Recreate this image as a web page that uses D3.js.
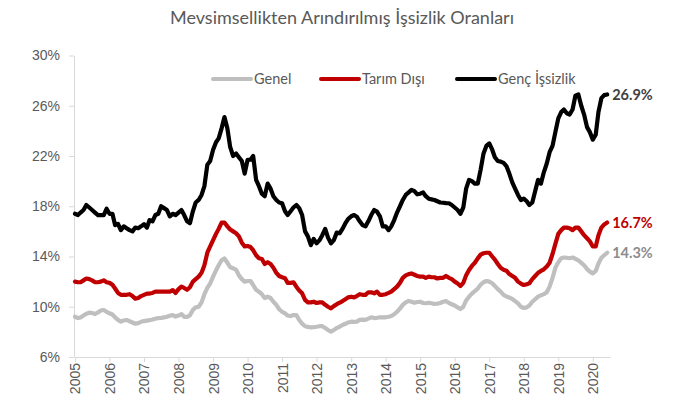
<!DOCTYPE html>
<html lang="tr">
<head>
    <meta charset="UTF-8">
    <title>İşsizlik Oranları</title>
    <script src="https://d3js.org/d3.v7.min.js"></script>
    <style>
        body {
            margin: 0;
            padding: 0;
            background: #fff;
            font-family: Lato, "Open Sans", sans-serif;
        }
        svg text {
            fill: #595959;
        }
        .axis path, .axis line {
            stroke: #d9d9d9;
        }
        .series {
            fill: none;
            stroke-width: 4.2px;
            stroke-linejoin: round;
            stroke-linecap: round;
        }
    </style>
</head>
<body>
    <svg id="chart" width="673" height="407"></svg>

    <script>
        // monthly, Jan 2005 .. Jun 2020 (seasonally adjusted, %)
        const startYear = 2005;
        const years = d3.range(2005, 2021);
        const yTicks = [6, 10, 14, 18, 22, 26, 30];

        const genel = [
            9.2, 9.1, 9.15, 9.3, 9.45, 9.53, 9.5, 9.42, 9.55, 9.7, 9.74, 9.6,
            9.48, 9.38, 9.15, 8.95, 8.82, 8.9, 8.95, 8.85, 8.75, 8.65, 8.7, 8.8,
            8.86, 8.9, 8.93, 8.98, 9.05, 9.1, 9.12, 9.15, 9.2, 9.28, 9.34, 9.22,
            9.3, 9.42, 9.2, 9.2, 9.32, 9.75, 9.95, 10.0, 10.35, 11.0, 11.5, 11.85,
            12.4, 12.9, 13.3, 13.7, 13.85, 13.5, 13.15, 13.06, 12.95, 12.5, 12.2, 12.0,
            12.05, 12.05, 11.73, 11.35, 11.2, 11.0, 10.7, 10.8, 10.7, 10.4, 10.15, 9.8,
            9.6, 9.48, 9.3, 9.25, 9.34, 9.34, 8.95, 8.65, 8.45, 8.4, 8.36, 8.38,
            8.41, 8.45, 8.45, 8.3, 8.15, 8.02, 8.15, 8.3, 8.42, 8.55, 8.65, 8.75,
            8.81, 8.8, 8.82, 8.95, 8.98, 8.95, 9.05, 9.16, 9.1, 9.12, 9.16, 9.15,
            9.16, 9.2, 9.26, 9.4, 9.6, 9.85, 10.15, 10.35, 10.46, 10.4, 10.32, 10.38,
            10.4, 10.3, 10.28, 10.32, 10.28, 10.22, 10.25, 10.3, 10.4, 10.45, 10.3, 10.2,
            10.1, 9.95, 9.82, 10.0, 10.5, 10.8, 11.05, 11.25, 11.45, 11.75, 11.95, 12.05,
            12.0, 11.87, 11.65, 11.4, 11.2, 10.95, 10.82, 10.73, 10.62, 10.45, 10.27, 10.0,
            9.9, 9.95, 10.1, 10.4, 10.6, 10.8, 10.9, 11.0, 11.15, 11.6, 12.3, 13.1,
            13.55, 13.86, 13.92, 13.9, 13.86, 13.92, 13.82, 13.7, 13.5, 13.3, 13.0, 12.8,
            12.66, 12.85, 13.45, 13.9, 14.1, 14.3
        ];

        const tarimDisi = [
            12.0, 11.95, 11.95, 12.1, 12.25, 12.2, 12.1, 11.95, 11.95, 12.0, 12.1, 11.95,
            11.9, 11.75, 11.45, 11.1, 10.95, 10.95, 10.95, 11.0, 10.85, 10.65, 10.7, 10.85,
            10.95, 11.05, 11.05, 11.1, 11.2, 11.2, 11.2, 11.2, 11.2, 11.2, 11.33, 11.1,
            11.4, 11.6, 11.5, 11.35, 11.55, 12.0, 12.2, 12.4, 12.7, 13.3, 14.3, 14.8,
            15.3, 15.8, 16.2, 16.7, 16.7, 16.4, 16.15, 16.0, 15.85, 15.6, 15.1, 14.8,
            14.84, 14.75, 14.5, 14.1, 13.86, 13.8, 13.4, 13.55, 13.4, 13.1, 12.7, 12.45,
            12.35, 12.27, 11.9, 11.9, 11.95, 11.6, 11.3, 11.07, 10.55, 10.35, 10.35, 10.4,
            10.3, 10.35, 10.35, 10.15, 10.0, 9.88, 10.05, 10.2, 10.32, 10.45, 10.6, 10.75,
            10.8, 10.75, 10.85, 11.0, 10.95, 10.95, 11.15, 11.15, 11.07, 11.2, 10.95, 10.95,
            11.0, 11.1, 11.2, 11.4, 11.6, 11.9, 12.3, 12.5, 12.6, 12.65, 12.55, 12.45,
            12.4, 12.4, 12.3, 12.4, 12.35, 12.35, 12.25, 12.3, 12.3, 12.45, 12.3, 12.2,
            12.0, 11.85, 11.65, 11.9, 12.5, 12.93, 13.25, 13.5, 13.85, 14.15, 14.26, 14.3,
            14.3, 14.0, 13.75, 13.4, 13.1, 12.95, 12.87, 12.6, 12.45, 12.3, 12.0, 11.85,
            11.73, 11.8, 11.87, 12.2, 12.45, 12.7, 12.85, 12.98, 13.2, 13.5, 14.2, 15.0,
            15.8, 16.1, 16.3, 16.3, 16.25, 16.1, 16.3, 16.3, 16.0, 15.7, 15.45, 15.2,
            14.8, 14.8, 15.7, 16.3, 16.55, 16.7
        ];

        const gencIssizlik = [
            17.4, 17.3, 17.5, 17.7, 18.1, 17.9, 17.7, 17.5, 17.3, 17.3, 17.3, 17.8,
            17.4, 17.4, 16.5, 16.6, 16.1, 16.4, 16.25, 16.1, 16.0, 16.3, 16.25, 16.4,
            16.57, 16.3, 16.9, 16.8, 17.3, 17.4, 18.0, 17.85, 17.7, 17.2, 17.4, 17.3,
            17.5, 17.7, 17.3, 16.8, 16.65, 17.6, 18.3, 18.5, 18.9, 19.6, 21.3, 21.6,
            22.5, 23.1, 23.4, 24.2, 25.1, 24.2, 22.7, 22.0, 22.2, 21.9, 21.6, 20.6,
            21.7, 21.7, 22.0, 20.1, 19.6, 19.0, 18.8, 19.8, 19.4, 18.8, 18.5, 18.3,
            18.24, 17.6, 17.3, 17.6, 17.9, 18.1, 17.85, 17.3, 16.0, 15.6, 14.9, 15.4,
            15.05, 15.3, 15.7, 16.2, 15.5, 15.05, 15.3, 15.9, 15.85, 16.2, 16.65, 17.0,
            17.2, 17.3, 17.17, 16.8, 16.5, 16.4, 16.8, 17.3, 17.7, 17.57, 17.2, 16.4,
            16.4, 16.1, 16.4, 16.9, 17.5, 18.0, 18.5, 18.9, 19.1, 19.3, 19.2, 18.95,
            19.0, 19.1, 18.8, 18.6, 18.55, 18.5, 18.4, 18.3, 18.28, 18.25, 18.24, 18.1,
            17.9, 17.7, 17.4, 17.9, 19.4, 20.1, 20.0, 19.8, 19.8, 20.9, 22.2, 22.8,
            23.0, 22.5, 21.9, 21.6, 21.55, 21.45, 21.2, 20.6, 19.9, 19.4, 18.9, 18.5,
            18.6, 18.4, 18.1, 18.3, 19.2, 20.1, 19.8, 20.7, 21.4, 22.3, 22.8, 23.9,
            25.0, 25.5, 25.7, 25.4, 25.3, 25.7, 26.8, 26.9, 26.0, 25.3, 24.3, 23.9,
            23.3, 23.7, 25.5, 26.6, 26.85, 26.9
        ];

        const series = [
            { name: "Genel", values: genel, color: "#bfbfbf", labelColor: "#8c8c8c" },
            { name: "Tarım Dışı", values: tarimDisi, color: "#c00000", labelColor: "#c00000" },
            { name: "Genç İşsizlik", values: gencIssizlik, color: "#000000", labelColor: "#404040" }
        ];

        const monthDate = i => new Date(startYear, i, 1);

        const svg = d3.select("#chart");

        const x = d3.scaleTime()
            .domain([new Date(2005, 0, 1), new Date(2020, 6, 1)])
            .range([75, 610]);
        const y = d3.scaleLinear()
            .domain([6, 30])
            .range([357, 55.5]);

        // title
        svg.append("text")
            .attr("x", 342)
            .attr("y", 24)
            .attr("text-anchor", "middle")
            .style("font-size", "18px")
            .text("Mevsimsellikten Arındırılmış  İşsizlik Oranları");

        // y axis
        const yAxis = svg.append("g")
            .attr("class", "axis")
            .attr("transform", "translate(74,0)")
            .call(d3.axisLeft(y).tickValues(yTicks).tickSize(5).tickSizeOuter(0)
                .tickFormat(d => d + "%"));
        yAxis.selectAll("text").style("font-size", "14px").attr("x", -14);

        // x axis
        const xAxis = svg.append("g")
            .attr("class", "axis")
            .attr("transform", "translate(0,357)")
            .call(d3.axisBottom(x).tickValues(years.map(d => new Date(d, 0, 1)))
                .tickSize(5).tickSizeOuter(0).tickFormat(d3.timeFormat("%Y")));
        xAxis.selectAll("text")
            .style("font-size", "14px")
            .attr("transform", "rotate(-90)")
            .attr("text-anchor", "end")
            .attr("x", -6)
            .attr("y", 0)
            .attr("dy", "0.35em");
        svg.selectAll(".axis .domain").style("stroke", "#d9d9d9");

        // lines
        const line = d3.line()
            .x((d, i) => x(monthDate(i)))
            .y(d => y(d));

        svg.selectAll(".series")
            .data(series)
            .enter().append("path")
            .attr("class", "series")
            .attr("stroke", d => d.color)
            .attr("d", d => line(d.values));

        // end labels
        svg.selectAll(".end-label")
            .data(series)
            .enter().append("text")
            .attr("class", "end-label")
            .attr("x", d => x(monthDate(d.values.length - 1)) + 5)
            .attr("y", d => y(d.values[d.values.length - 1]))
            .attr("dy", "0.35em")
            .style("font-size", "14.5px")
            .style("font-weight", "bold")
            .style("fill", d => d.labelColor)
            .text(d => d.values[d.values.length - 1].toFixed(1) + "%");

        // legend
        const legendX = [213, 321, 457];
        const legend = svg.selectAll(".legend")
            .data(series)
            .enter().append("g")
            .attr("class", "legend")
            .attr("transform", (d, i) => `translate(${legendX[i]},79)`);
        legend.append("line")
            .attr("x1", 0).attr("x2", 38)
            .attr("stroke", d => d.color)
            .attr("stroke-width", 4)
            .attr("stroke-linecap", "round");
        legend.append("text")
            .attr("x", 41)
            .attr("dy", "0.35em")
            .style("font-size", "14.5px")
            .text(d => d.name);
    </script>
</body>
</html>
